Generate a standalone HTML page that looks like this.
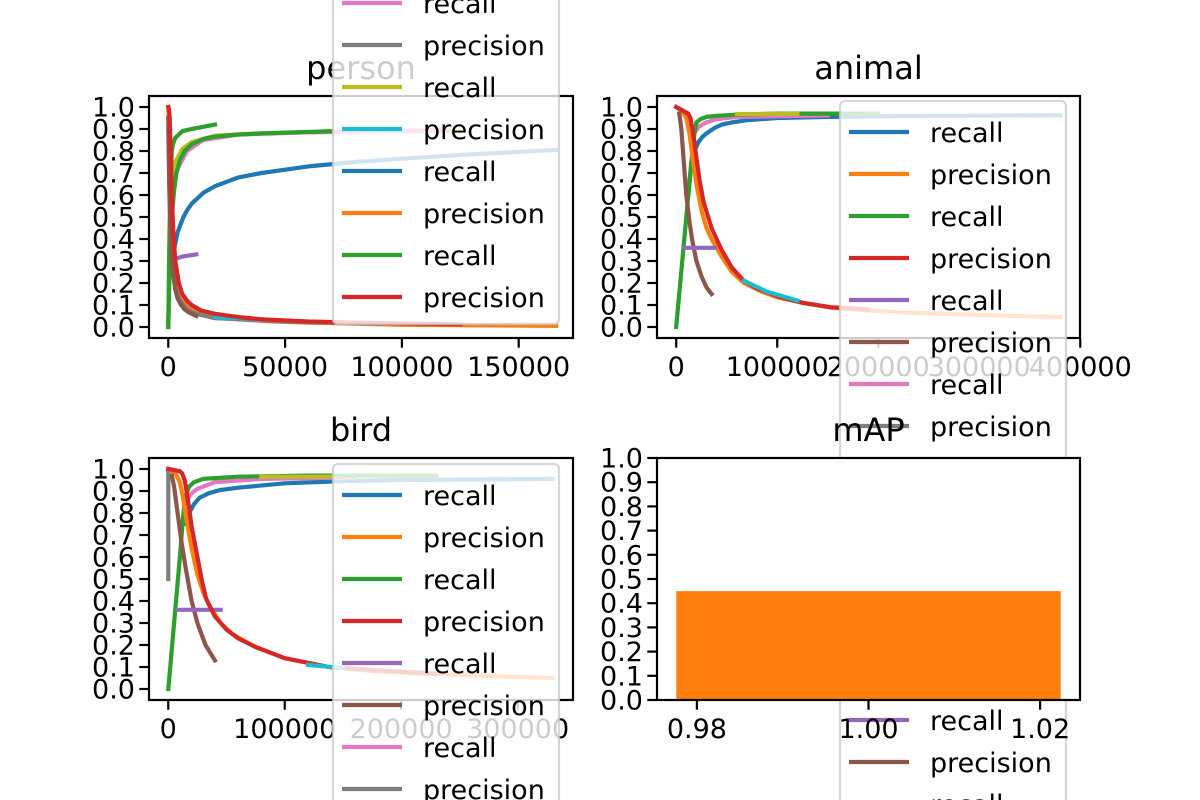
<!DOCTYPE html>
<html><head><meta charset="utf-8"><style>
html,body{margin:0;padding:0;background:#fff;overflow:hidden;width:1200px;height:800px;}
svg{display:block;font-family:"DejaVu Sans","Liberation Sans",sans-serif;}
</style></head><body>
<svg id="fig" width="1200" height="800" viewBox="0 0 1200 800" xmlns="http://www.w3.org/2000/svg"></svg>
<script>
// ---------- data ----------
const personOliveX=[0,500,1000,2000,3000,6000,10000,20000,40000,60000,100000,125000];
const personOliveY=[0,0.45,0.6,0.7,0.75,0.81,0.84,0.87,0.88,0.885,0.89,0.89];
const personPinkX=[0,700,1500,2500,4000,8000,15000,30000,60000,90000,120000];
const personPinkY=[0,0.4,0.55,0.65,0.72,0.8,0.85,0.875,0.885,0.89,0.895];
const personPurpleX=[3000,6000,12000];
const personPurpleY=[0.31,0.32,0.33];
const personBlueX=[2000,2500,3000,4000,5000,6500,8000,10000,12000,15000,20000,25000,30000,40000,50000,60000,80000,100000,130000,166000];
const personBlueY=[0.3,0.35,0.38,0.43,0.46,0.5,0.53,0.56,0.58,0.61,0.64,0.66,0.68,0.7,0.715,0.73,0.75,0.765,0.785,0.805];
const personGreenX=[0,500,800,1200,1500,2000,3000,4500,6000,8000,10000,15000,20000];
const personGreenY=[0,0.35,0.5,0.7,0.8,0.83,0.86,0.875,0.89,0.895,0.9,0.91,0.92];
const personGreen2X=[0,700,1500,2500,3500,5000,7000,10000,15000,20000,30000,40000,70000];
const personGreen2Y=[0,0.35,0.5,0.62,0.7,0.76,0.8,0.83,0.855,0.865,0.875,0.88,0.89];
const personOrangeX=[0,500,1000,1500,2000,3000,4000,6000,8000,11000,15000,22000,30000,45000,60000,100000,166000];
const personOrangeY=[1.0,0.85,0.7,0.5,0.35,0.24,0.18,0.13,0.1,0.075,0.06,0.045,0.035,0.025,0.02,0.01,0.005];
const personGrayX=[0,500,1000,2000,3000,5000,8000,12000,20000,50000,90000];
const personGrayY=[0.9,0.6,0.4,0.25,0.18,0.12,0.08,0.06,0.04,0.025,0.015];
const personBrownX=[0,400,800,1300,2000,3000,4000,5500,7000,9000,12000];
const personBrownY=[0.95,0.7,0.5,0.35,0.25,0.17,0.13,0.1,0.08,0.065,0.05];
const personRedX=[0,300,600,1000,1500,2200,3000,4500,6000,8000,10000,14000,20000,30000,40000,60000,80000,125000];
const personRedY=[1.0,0.99,0.95,0.8,0.6,0.42,0.3,0.2,0.15,0.12,0.1,0.075,0.06,0.045,0.035,0.025,0.02,0.012];
const personCyanX=[20000,30000,40000];
const personCyanY=[0.045,0.04,0.035];

const animalBlueX=[12000,15000,18000,22000,26000,30000,38000,45000,55000,70000,100000,150000,250000,380000];
const animalBlueY=[0.6,0.75,0.8,0.84,0.865,0.88,0.905,0.92,0.93,0.94,0.95,0.955,0.96,0.962];
const animalPinkX=[15000,18000,22000,30000,40000,60000,150000];
const animalPinkY=[0.85,0.88,0.91,0.93,0.945,0.955,0.962];
const animalGreenX=[0,10000,15000,18000,20000,24000,30000,40000,60000,100000,200000];
const animalGreenY=[0,0.5,0.75,0.88,0.93,0.945,0.955,0.96,0.965,0.97,0.97];
const animalOliveX=[60000,100000,120000];
const animalOliveY=[0.968,0.968,0.968];
const animalOrangeX=[0,6000,10000,13000,16000,20000,25000,30000,35000,45000,55000,67000,85000,100000,125000,153000,200000,250000,320000,380000];
const animalOrangeY=[1.0,0.98,0.95,0.88,0.78,0.65,0.53,0.45,0.4,0.32,0.25,0.2,0.16,0.135,0.11,0.088,0.072,0.062,0.052,0.045];
const animalBrownX=[3000,5000,7000,10000,13000,16000,20000,25000,30000,35000];
const animalBrownY=[0.97,0.9,0.78,0.6,0.48,0.39,0.3,0.23,0.18,0.15];
const animalPurpleX=[8000,20000,38000];
const animalPurpleY=[0.36,0.36,0.36];
const animalRedX=[0,8000,12000,14000,16000,18000,20000,23000,27000,31000,35000,40000,45000,55000,67000,80000,100000,125000,153000,190000];
const animalRedY=[1.0,0.98,0.97,0.95,0.9,0.84,0.77,0.67,0.57,0.51,0.45,0.4,0.35,0.27,0.21,0.175,0.14,0.11,0.09,0.08];
const animalCyanX=[67000,90000,120000];
const animalCyanY=[0.21,0.16,0.12];

const birdGrayX=[0,0,0];
const birdGrayY=[0.5,0.8,1.0];
const birdBlueX=[15000,18000,22000,27000,35000,45000,60000,100000,150000,200000,330000];
const birdBlueY=[0.75,0.8,0.84,0.87,0.89,0.905,0.915,0.935,0.945,0.95,0.955];
const birdPinkX=[15000,20000,25000,40000,80000,160000];
const birdPinkY=[0.85,0.89,0.91,0.94,0.955,0.962];
const birdGreenX=[0,10000,13000,15000,18000,22000,30000,60000,120000,230000];
const birdGreenY=[0,0.6,0.8,0.88,0.92,0.94,0.955,0.965,0.97,0.97];
const birdOliveX=[80000,140000];
const birdOliveY=[0.965,0.965];
const birdOrangeX=[0,6000,10000,13000,16000,20000,25000,30000,36000,45000,55000,75000,100000,138000,180000,220000,280000,330000];
const birdOrangeY=[1.0,0.98,0.94,0.86,0.76,0.64,0.52,0.44,0.37,0.3,0.25,0.19,0.14,0.1,0.08,0.07,0.058,0.05];
const birdBrownX=[3000,5000,8000,11000,15000,20000,25000,32000,40000];
const birdBrownY=[0.97,0.92,0.8,0.68,0.55,0.4,0.3,0.2,0.13];
const birdPurpleX=[8000,25000,45000];
const birdPurpleY=[0.36,0.36,0.36];
const birdRedX=[0,10000,12000,14000,16000,18000,20000,25000,29000,32600,40000,50000,60000,75500,100000,138000,180000,230000];
const birdRedY=[1.0,0.99,0.98,0.95,0.89,0.82,0.74,0.6,0.49,0.41,0.33,0.27,0.23,0.19,0.14,0.1,0.085,0.07];
const birdCyanX=[120000,150000];
const birdCyanY=[0.11,0.095];

const mapCategories=[1.0];
const mapValues=[0.45];
const mapXTicks=["0.98","1.00","1.02"];
const mapXTickVals=[0.98,1.00,1.02];
const yTickLabels=["0.0","0.1","0.2","0.3","0.4","0.5","0.6","0.7","0.8","0.9","1.0"];
const personXTicks=[0,50000,100000,150000];
const animalXTicks=[0,100000,200000,300000,400000];
const birdXTicks=[0,100000,200000,300000];
const legendLabels=["recall","precision"];

// ---------- drawing ----------
const C=["#1f77b4","#ff7f0e","#2ca02c","#d62728","#9467bd","#8c564b","#e377c2","#7f7f7f","#bcbd22","#17becf"];
const NS="http://www.w3.org/2000/svg";
const svg=document.getElementById('fig');
function mk(tag,attrs,parent){const e=document.createElementNS(NS,tag);for(const k in attrs)e.setAttribute(k,attrs[k]);(parent||svg).appendChild(e);return e;}

function linePanel(name,box,xmax,xticks,series,legend){
  const g=mk('g',{});
  
  
  const xmin=-0.05*xmax, xm=1.05*xmax;
  const sx=v=>box.l+(v-xmin)/(xm-xmin)*(box.r-box.l);
  const sy=v=>box.b-(v+0.05)/1.1*(box.b-box.t);
  const cp=mk('clipPath',{id:'clip-'+name},g);
  mk('rect',{x:box.l,y:box.t,width:box.r-box.l,height:box.b-box.t},cp);
  const lg=mk('g',{'clip-path':'url(#clip-'+name+')'},g);
  series.forEach(s=>{
    const d=s.x.map((v,i)=>(i?'L':'M')+sx(v).toFixed(1)+','+sy(s.y[i]).toFixed(1)).join('');
    const p=mk('path',{d:d,fill:'none',stroke:s.c,'stroke-width':4.2,'stroke-linejoin':'round','stroke-linecap':'square'},lg);
    
    
  });
  axes(g,name,box,xticks.map(v=>({p:sx(v),t:String(v)})),yTickLabels.map((t,i)=>({p:sy(i/10),t:t})));
  drawLegend(name,legend);
}
function axes(g,name,box,xt,yt){
  const sp=mk('rect',{x:box.l,y:box.t,width:box.r-box.l,height:box.b-box.t,fill:'none',stroke:'#000','stroke-width':2.2},g);
  
  
  xt.forEach(t=>{
    mk('line',{x1:t.p,x2:t.p,y1:box.b,y2:box.b+9.7,stroke:'#000','stroke-width':2.2},g);
    const tx=mk('text',{x:t.p,y:box.b+38,'font-size':27,'text-anchor':'middle',fill:'#000'},g);
    tx.textContent=t.t;
    
    
  });
  yt.forEach(t=>{
    mk('line',{x1:box.l-9.7,x2:box.l,y1:t.p,y2:t.p,stroke:'#000','stroke-width':2.2},g);
    const tx=mk('text',{x:box.l-14,y:t.p+9.5,'font-size':27,'text-anchor':'end',fill:'#000'},g);
    tx.textContent=t.t;
    
    
  });
  const ti=mk('text',{x:(box.l+box.r)/2,y:box.t-17,'font-size':32,'text-anchor':'middle',fill:'#000'},g);
  ti.textContent=name;
  
  
}
function drawLegend(name,L){
  const g=mk('g',{});
  
  
  const top=L.y0-31, bot=L.y0+(L.n-1)*42+27;
  mk('rect',{x:L.x,y:top,width:226,height:bot-top,rx:5,fill:'rgba(255,255,255,0.8)',stroke:'rgba(204,204,204,0.8)','stroke-width':2.2},g);
  for(let i=0;i<L.n;i++){
    const y=L.y0+i*42, col=C[i%10];
    const e=mk('g',{},g);
    
    
    mk('line',{x1:L.x+9,x2:L.x+69,y1:y,y2:y,stroke:col,'stroke-width':4.2},e);
    const t=mk('text',{x:L.x+90,y:y+10,'font-size':27,fill:'#000'},e);
    t.textContent=legendLabels[i%2];
  }
}

linePanel('person',{l:149,r:573,t:96,b:338},165000,personXTicks,[
 {n:'olive-recall',x:personOliveX,y:personOliveY,c:C[8]},
 {n:'pink-recall',x:personPinkX,y:personPinkY,c:C[6]},
 {n:'green2-recall',x:personGreen2X,y:personGreen2Y,c:C[2]},
 {n:'purple-recall',x:personPurpleX,y:personPurpleY,c:C[4]},
 {n:'blue-recall',x:personBlueX,y:personBlueY,c:C[0]},
 {n:'green-recall',x:personGreenX,y:personGreenY,c:C[2]},
 {n:'orange-precision',x:personOrangeX,y:personOrangeY,c:C[1]},
 {n:'gray-precision',x:personGrayX,y:personGrayY,c:C[7]},
 {n:'brown-precision',x:personBrownX,y:personBrownY,c:C[5]},
 {n:'cyan-precision',x:personCyanX,y:personCyanY,c:C[9]},
 {n:'red-precision',x:personRedX,y:personRedY,c:C[3]}
],{x:333,y0:297-13*42,n:14});

linePanel('animal',{l:657,r:1080,t:96,b:338},380700,animalXTicks,[
 {n:'blue-recall',x:animalBlueX,y:animalBlueY,c:C[0]},
 {n:'pink-recall',x:animalPinkX,y:animalPinkY,c:C[6]},
 {n:'green-recall',x:animalGreenX,y:animalGreenY,c:C[2]},
 {n:'olive-recall',x:animalOliveX,y:animalOliveY,c:C[8]},
 {n:'orange-precision',x:animalOrangeX,y:animalOrangeY,c:C[1]},
 {n:'brown-precision',x:animalBrownX,y:animalBrownY,c:C[5]},
 {n:'purple-recall',x:animalPurpleX,y:animalPurpleY,c:C[4]},
 {n:'red-precision',x:animalRedX,y:animalRedY,c:C[3]},
 {n:'cyan-precision',x:animalCyanX,y:animalCyanY,c:C[9]}
],{x:840,y0:132,n:20});

linePanel('bird',{l:149,r:573,t:458,b:700},331000,birdXTicks,[
 {n:'gray-precision',x:birdGrayX,y:birdGrayY,c:C[7]},
 {n:'blue-recall',x:birdBlueX,y:birdBlueY,c:C[0]},
 {n:'pink-recall',x:birdPinkX,y:birdPinkY,c:C[6]},
 {n:'green-recall',x:birdGreenX,y:birdGreenY,c:C[2]},
 {n:'olive-recall',x:birdOliveX,y:birdOliveY,c:C[8]},
 {n:'orange-precision',x:birdOrangeX,y:birdOrangeY,c:C[1]},
 {n:'brown-precision',x:birdBrownX,y:birdBrownY,c:C[5]},
 {n:'purple-recall',x:birdPurpleX,y:birdPurpleY,c:C[4]},
 {n:'red-precision',x:birdRedX,y:birdRedY,c:C[3]},
 {n:'cyan-precision',x:birdCyanX,y:birdCyanY,c:C[9]}
],{x:333,y0:495,n:20});

// mAP bar panel
(function(){
  const box={l:657,r:1080,t:458,b:700};
  const g=mk('g',{});
  
  
  mk('rect',{x:box.l,y:box.t,width:box.r-box.l,height:box.b-box.t,fill:'#fff'},g);
  const bw=0.0448, xmin=0.97535, xmax=1.02465;
  const sx=v=>box.l+(v-xmin)/(xmax-xmin)*(box.r-box.l);
  const sy=v=>box.b-v*(box.b-box.t);
  mapCategories.forEach((c,i)=>{
    const r=mk('rect',{x:sx(c-bw/2),y:sy(mapValues[i]),width:sx(c+bw/2)-sx(c-bw/2),height:sy(0)-sy(mapValues[i]),fill:C[1]},g);
    
    
  });
  axes(g,'mAP',box,mapXTickVals.map((v,i)=>({p:sx(v),t:mapXTicks[i]})),yTickLabels.map((t,i)=>({p:sy(i/10),t:t})));
})();
</script>
</body></html>
